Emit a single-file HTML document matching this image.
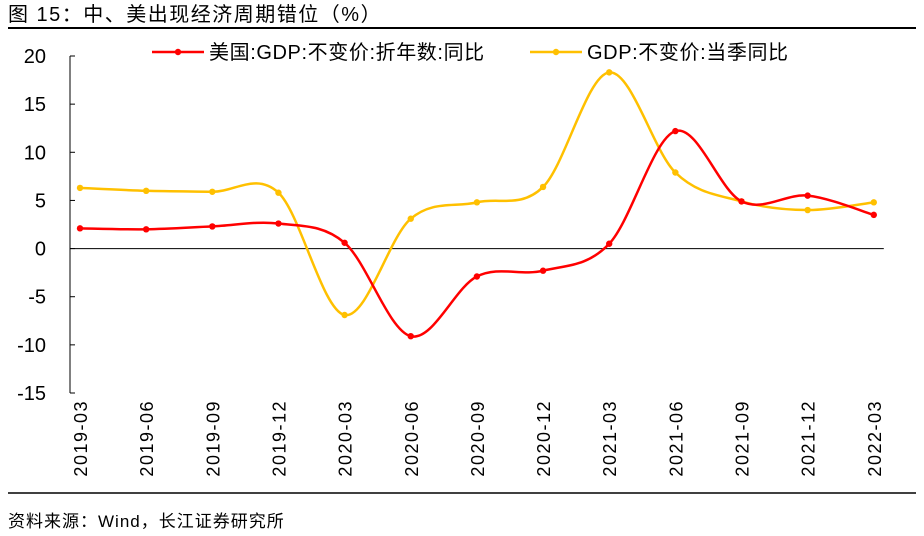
<!DOCTYPE html>
<html><head><meta charset="utf-8"><style>
body{margin:0;background:#fff;}
svg{display:block;font-family:"Liberation Sans","Noto Sans CJK SC",sans-serif;}
</style></head><body>
<svg id="c" width="924" height="536">
<text x="8" y="21" font-size="20" letter-spacing="1.5" fill="#000">图  15：中、美出现经济周期错位（%）</text>
<line x1="8" y1="28" x2="916" y2="28" stroke="#000" stroke-width="2"/>
<line x1="8" y1="493" x2="916" y2="493" stroke="#000" stroke-width="1.5"/>
<text x="8" y="527" font-size="17" letter-spacing="1" fill="#000">资料来源：Wind，长江证券研究所</text>
<g id="g"></g>
</svg>
<script>
const categories=["2019-03","2019-06","2019-09","2019-12","2020-03","2020-06","2020-09","2020-12","2021-03","2021-06","2021-09","2021-12","2022-03"];
const usValues=[2.1,2.0,2.3,2.6,0.6,-9.1,-2.9,-2.3,0.5,12.2,4.9,5.5,3.5];
const cnValues=[6.3,6.0,5.9,5.8,-6.9,3.1,4.8,6.4,18.3,7.9,4.9,4.0,4.8];
const yTicks=[20,15,10,5,0,-5,-10,-15];
const seriesNames=["美国:GDP:不变价:折年数:同比","GDP:不变价:当季同比"];
const NS="http://www.w3.org/2000/svg";
const g=document.getElementById('g');
const x0=80,dx=66.15,yTop=56,yBot=393,vMax=20,vMin=-15;
function X(i){return x0+i*dx;}
function Y(v){return yTop+(vMax-v)/(vMax-vMin)*(yBot-yTop);}
function mk(t,a){const e=document.createElementNS(NS,t);for(const k in a)e.setAttribute(k,a[k]);g.appendChild(e);return e;}
let e=mk('line',{x1:70,y1:yTop,x2:70,y2:yBot,stroke:'#000','stroke-width':1});


yTicks.forEach(v=>{
 let t=mk('line',{x1:70,y1:Y(v),x2:75,y2:Y(v),stroke:'#000'});
 
 
 let l=mk('text',{x:46,y:Y(v)+7,'font-size':20,'text-anchor':'end'});l.textContent=v;
 
 
});
e=mk('line',{x1:70,y1:Y(0),x2:X(12)+10,y2:Y(0),stroke:'#000'});


categories.forEach((c,i)=>{
 let l=mk('text',{x:0,y:0,'font-size':18,'letter-spacing':1.5,'text-anchor':'end',transform:`translate(${X(i)+7},400) rotate(-90)`});l.textContent=c;
 
 
});
function path(vals){
 const p=vals.map((v,i)=>[X(i),Y(v)]);let d=`M${p[0][0]},${p[0][1]}`;
 for(let i=0;i<p.length-1;i++){const a=p[i-1]||p[i],b=p[i],c=p[i+1],n=p[i+2]||c;
  d+=` C${b[0]+(c[0]-a[0])/6},${b[1]+(c[1]-a[1])/6} ${c[0]-(n[0]-b[0])/6},${c[1]-(n[1]-b[1])/6} ${c[0]},${c[1]}`;}
 return d;}
function series(vals,col,name){
 let p=mk('path',{d:path(vals),fill:'none',stroke:col,'stroke-width':2.5});
 
 
 vals.forEach((v,i)=>{let m=mk('circle',{cx:X(i),cy:Y(v),r:3.2,fill:col});
  
  });
}
series(cnValues,'#FFC000','china-gdp');
series(usValues,'#FF0000','us-gdp');
function legend(x,col,txt,name){
 let l=mk('line',{x1:x,y1:52,x2:x+52,y2:52,stroke:col,'stroke-width':2.5});
 
 
 let m=mk('circle',{cx:x+26,cy:52,r:3.2,fill:col});
 
 
 let t=mk('text',{x:x+57,y:59,'font-size':20,'letter-spacing':0.6});t.textContent=txt;
 
 
}
legend(152,'#FF0000',seriesNames[0],'us-gdp');
legend(530,'#FFC000',seriesNames[1],'china-gdp');
</script>
</body></html>
